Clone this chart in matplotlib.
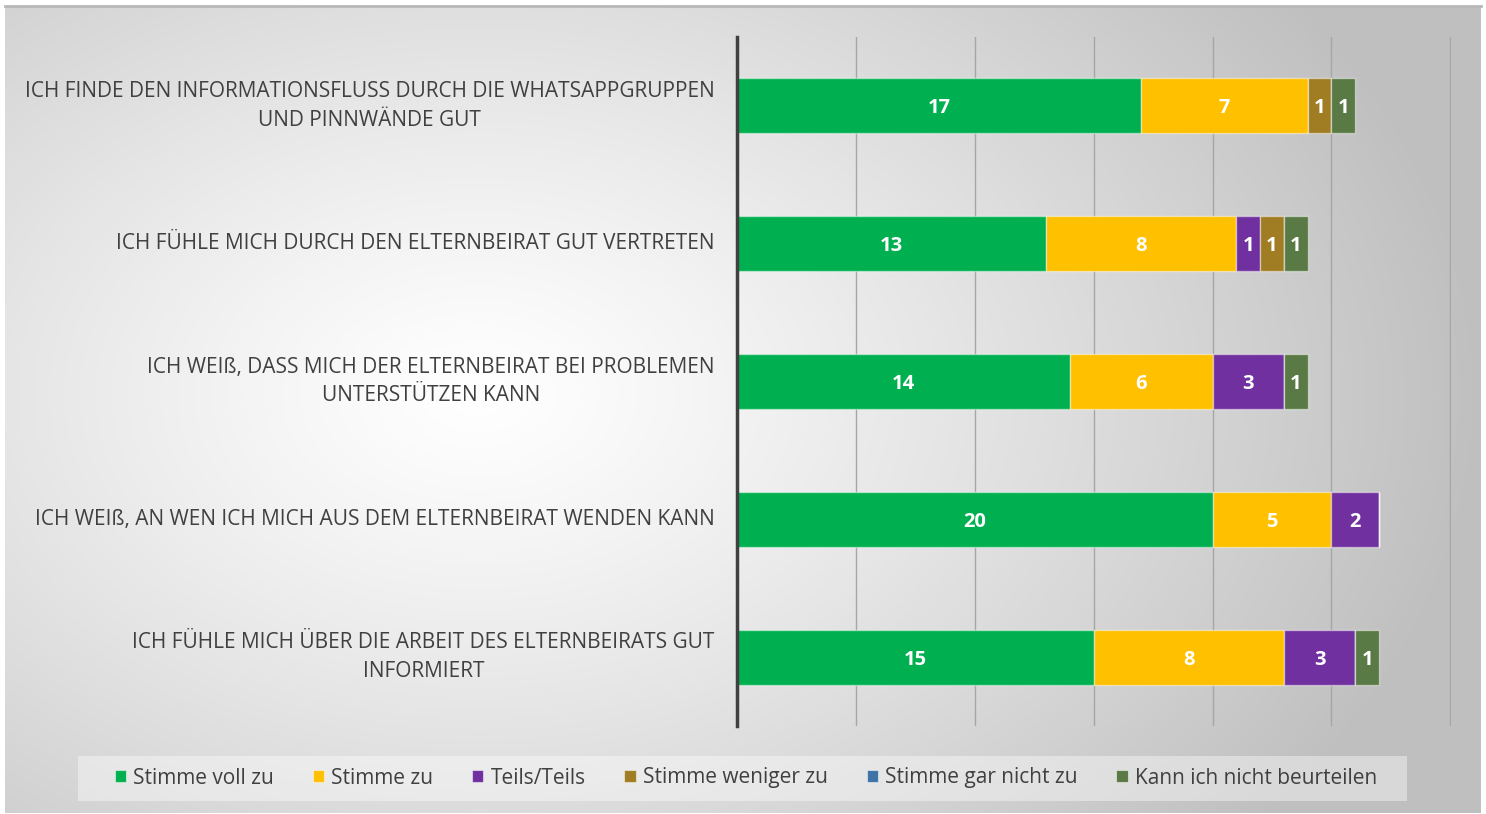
import numpy as np
import matplotlib
matplotlib.use("Agg")
import matplotlib.pyplot as plt
from matplotlib.patches import Rectangle

categories = [
    "ICH FINDE DEN INFORMATIONSFLUSS DURCH DIE WHATSAPPGRUPPEN\nUND PINNWÄNDE GUT",
    "ICH FÜHLE MICH DURCH DEN ELTERNBEIRAT GUT VERTRETEN",
    "ICH WEIß, DASS MICH DER ELTERNBEIRAT BEI PROBLEMEN\nUNTERSTÜTZEN KANN",
    "ICH WEIß, AN WEN ICH MICH AUS DEM ELTERNBEIRAT WENDEN KANN",
    "ICH FÜHLE MICH ÜBER DIE ARBEIT DES ELTERNBEIRATS GUT\nINFORMIERT",
]
series_names = ["Stimme voll zu", "Stimme zu", "Teils/Teils", "Stimme weniger zu",
                "Stimme gar nicht zu", "Kann ich nicht beurteilen"]
stimme_voll_zu = [17, 13, 14, 20, 15]
stimme_zu = [7, 8, 6, 5, 8]
teils_teils = [0, 1, 3, 2, 3]
stimme_weniger_zu = [1, 1, 0, 0, 0]
stimme_gar_nicht_zu = [0, 0, 0, 0, 0]
kann_nicht_beurteilen = [1, 1, 1, 0, 1]
series_values = [stimme_voll_zu, stimme_zu, teils_teils, stimme_weniger_zu,
                 stimme_gar_nicht_zu, kann_nicht_beurteilen]
colors = ["#00B050", "#FFC000", "#7030A0", "#A07C22", "#3F72A6", "#5A7A45"]

W, H = 1486, 814
fig = plt.figure(figsize=(W / 100, H / 100), dpi=100)
plt.rcParams['font.family'] = ['Open Sans', 'DejaVu Sans']

def fx(x):
    return x / W

def fy(y):
    return 1 - y / H

# gradient background
bg = fig.add_axes([fx(5), fy(813), fx(1481) - fx(5), fy(6) - fy(813)])
bg.set_axis_off()
ny, nx = 400, 740
yy, xx = np.mgrid[0:ny, 0:nx]
cx, cy = 0.32 * nx, 0.48 * ny
r = np.sqrt(((xx - cx) / (nx * 0.68)) ** 2 + ((yy - cy) / (ny * 0.85)) ** 2)
r = np.clip(r, 0, 1.2)
val = 1.0 - 0.25 * r ** 1.2
val = np.clip(val, 0.75, 1)
img = np.dstack([val, val, val])
bg.imshow(img, aspect='auto', extent=[0, 1, 0, 1], interpolation='bilinear')
bg.set_xlim(0, 1)
bg.set_ylim(0, 1)
bg.plot([0, 1], [1, 1], color="#b8b8b8", lw=2, transform=bg.transAxes, clip_on=False)

ax = fig.add_axes([fx(737), fy(726), fx(1451) - fx(737), fy(37) - fy(726)])
ax.patch.set_alpha(0)
y = np.arange(len(categories))
left = np.zeros(len(categories))
for name, vals, c in zip(series_names, series_values, colors):
    vals = np.array(vals, dtype=float)
    bars = ax.barh(y, vals, left=left, height=0.4, color=c, label=name,
                   edgecolor=(1, 1, 1, 0.45), linewidth=1.0, zorder=3)
    for b, v in zip(bars, vals):
        if v > 0:
            ax.text(b.get_x() + b.get_width() / 2, b.get_y() + b.get_height() / 2,
                    f"{int(v)}", ha='center', va='center_baseline', color='white',
                    fontsize=14.5, fontweight='bold', zorder=4)
    left += vals

ax.set_xlim(0, 30.03)
ax.set_ylim(4.5, -0.5)
ax.set_xticks(np.arange(0, 31, 5))
ax.xaxis.grid(True, color="#a6a6a6", lw=1, zorder=0)
ax.tick_params(axis='x', length=0, labelbottom=False)
ax.tick_params(axis='y', length=0, pad=16)
ax.set_yticks(y)
ax.set_yticklabels(categories, fontsize=15, color="#404040", multialignment='center',
                   linespacing=1.45)
for lab in ax.get_yticklabels():
    lab.set_va('center')
for s in ['top', 'right', 'bottom']:
    ax.spines[s].set_visible(False)
ax.spines['left'].set_color("#404040")
ax.spines['left'].set_linewidth(2.5)
ax.spines['left'].set_zorder(5)

# legend
lg_box = Rectangle((fx(78), fy(801)), fx(1407) - fx(78), fy(756) - fy(801),
                   transform=fig.transFigure, facecolor=(1, 1, 1, 0.4), edgecolor='none', zorder=1)
fig.add_artist(lg_box)
handles = [Rectangle((0, 0), 1, 1, facecolor=c, edgecolor=(1, 1, 1, 0.5), lw=0.8) for c in colors]
leg = fig.legend(handles, series_names, loc='center', bbox_to_anchor=(fx(746), fy(778)),
                 ncol=6, frameon=False, fontsize=15, handlelength=0.55, handleheight=0.55,
                 handletextpad=0.35, columnspacing=1.85, labelcolor="#404040")

fig.savefig("out.png", dpi=100, facecolor='white')
